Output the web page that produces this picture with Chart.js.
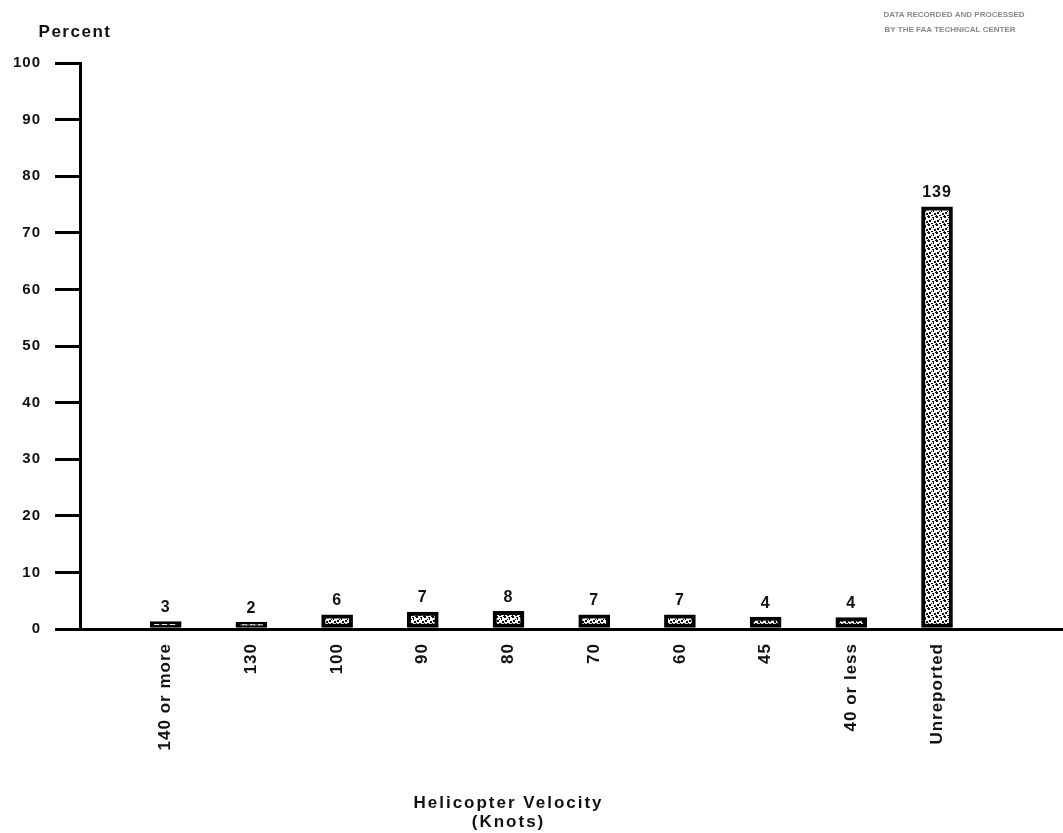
<!DOCTYPE html>
<html lang="en">
<head>
    <meta charset="UTF-8">
    <title>Helicopter Velocity</title>
    <style>
        html, body { margin: 0; padding: 0; background: #ffffff; }
        .chart-container { width: 1063px; height: 833px; }
    </style>
</head>
<body>
    <div class="chart-container"><canvas id="velocityChart"></canvas></div>

    <script src="https://cdn.jsdelivr.net/npm/chart.js"></script>
    <script>
        // velocity classes, left to right
        const categories = ['140 or more', '130', '100', '90', '80', '70', '60', '45', '40 or less', 'Unreported'];
        // number of reports written above each bar
        const counts = [3, 2, 6, 7, 8, 7, 7, 4, 4, 139];
        // bar heights, percent
        const percents = [1.3, 1.2, 2.5, 3.0, 3.1, 2.5, 2.5, 2.1, 2.0, 74.6];
        const noteLines = ['DATA RECORDED AND PROCESSED', 'BY THE FAA TECHNICAL CENTER'];

        const FONT = '"Liberation Sans", Arial, sans-serif';

        // white fill with black speckles, like the printed bars
        function stipple() {
            const c = document.createElement('canvas');
            c.width = 8; c.height = 8;
            const g = c.getContext('2d');
            g.fillStyle = '#ffffff';
            g.fillRect(0, 0, 8, 8);
            g.fillStyle = '#111111';
            g.fillRect(0, 0, 2, 2); g.fillRect(4, 1, 2, 1); g.fillRect(5, 2, 1, 2);
            g.fillRect(1, 4, 2, 2); g.fillRect(6, 5, 2, 2); g.fillRect(3, 7, 2, 1);
            g.fillRect(7, 0, 1, 1); g.fillRect(3, 3, 1, 1); g.fillRect(0, 7, 1, 1);
            return g.createPattern(c, 'repeat');
        }

        const spacing = {
            id: 'spacing',
            beforeUpdate(chart) { chart.ctx.letterSpacing = '1px'; },
            beforeDraw(chart) { chart.ctx.letterSpacing = '1px'; }
        };

        const annotations = {
            id: 'annotations',
            afterDraw(chart) {
                const ctx = chart.ctx;
                const x = chart.scales.x;
                ctx.save();
                ctx.letterSpacing = '1px';
                ctx.fillStyle = '#111';
                ctx.textAlign = 'center';
                ctx.textBaseline = 'middle';

                // counts above bars
                ctx.font = 'bold 16px ' + FONT;
                chart.getDatasetMeta(0).data.forEach((bar, i) => {
                    ctx.fillText(String(counts[i]), bar.x, bar.y - 14);
                });

                // y label
                ctx.letterSpacing = '1.5px';
                ctx.font = 'bold 17px ' + FONT;
                ctx.fillText('Percent', 75, 32);

                // x title
                ctx.letterSpacing = '2px';
                ctx.font = 'bold 17px ' + FONT;
                const cx = x.getPixelForValue(5);
                ctx.fillText('Helicopter Velocity', cx, 803);
                ctx.fillText('(Knots)', cx, 822);

                // note at top right
                ctx.letterSpacing = '0px';
                ctx.font = 'bold 8px ' + FONT;
                ctx.fillStyle = '#8a8a8a';
                ctx.fillText(noteLines[0], 954, 15);
                ctx.fillText(noteLines[1], 950, 30);
                ctx.restore();
            }
        };

        const chart = new Chart(document.getElementById('velocityChart').getContext('2d'), {
            type: 'bar',
            data: {
                datasets: [{
                    data: percents.map((p, i) => ({ x: i + 1, y: p })),
                    backgroundColor: stipple(),
                    borderColor: '#000',
                    borderWidth: 4,
                    borderSkipped: false,
                    barThickness: 31
                }]
            },
            options: {
                responsive: true,
                maintainAspectRatio: false,
                animation: false,
                layout: { padding: { top: 63, right: 0, left: 0, bottom: 0 } },
                plugins: { legend: { display: false }, tooltip: { enabled: false } },
                scales: {
                    x: {
                        type: 'linear',
                        offset: false,
                        min: 0,
                        max: 11.47,
                        afterFit: s => { s.height = 204; },
                        afterBuildTicks: s => { s.ticks = categories.map((c, i) => ({ value: i + 1 })); },
                        border: { display: true, color: '#000', width: 3 },
                        grid: { drawOnChartArea: false, drawTicks: false },
                        ticks: {
                            autoSkip: false,
                            minRotation: 90,
                            maxRotation: 90,
                            padding: 14,
                            color: '#111',
                            font: { family: FONT, size: 17, weight: 'bold' },
                            callback: v => categories[Math.round(v) - 1] || ''
                        }
                    },
                    y: {
                        min: 0,
                        max: 100,
                        afterFit: s => { s.width = 80; },
                        border: { display: true, color: '#000', width: 3 },
                        grid: { drawOnChartArea: false, drawTicks: true, tickLength: 25, lineWidth: 3, color: '#000' },
                        ticks: {
                            stepSize: 10,
                            padding: 14,
                            color: '#111',
                            font: { family: FONT, size: 15, weight: 'bold' }
                        }
                    }
                }
            },
            plugins: [spacing, annotations]
        });
    </script>
</body>
</html>
